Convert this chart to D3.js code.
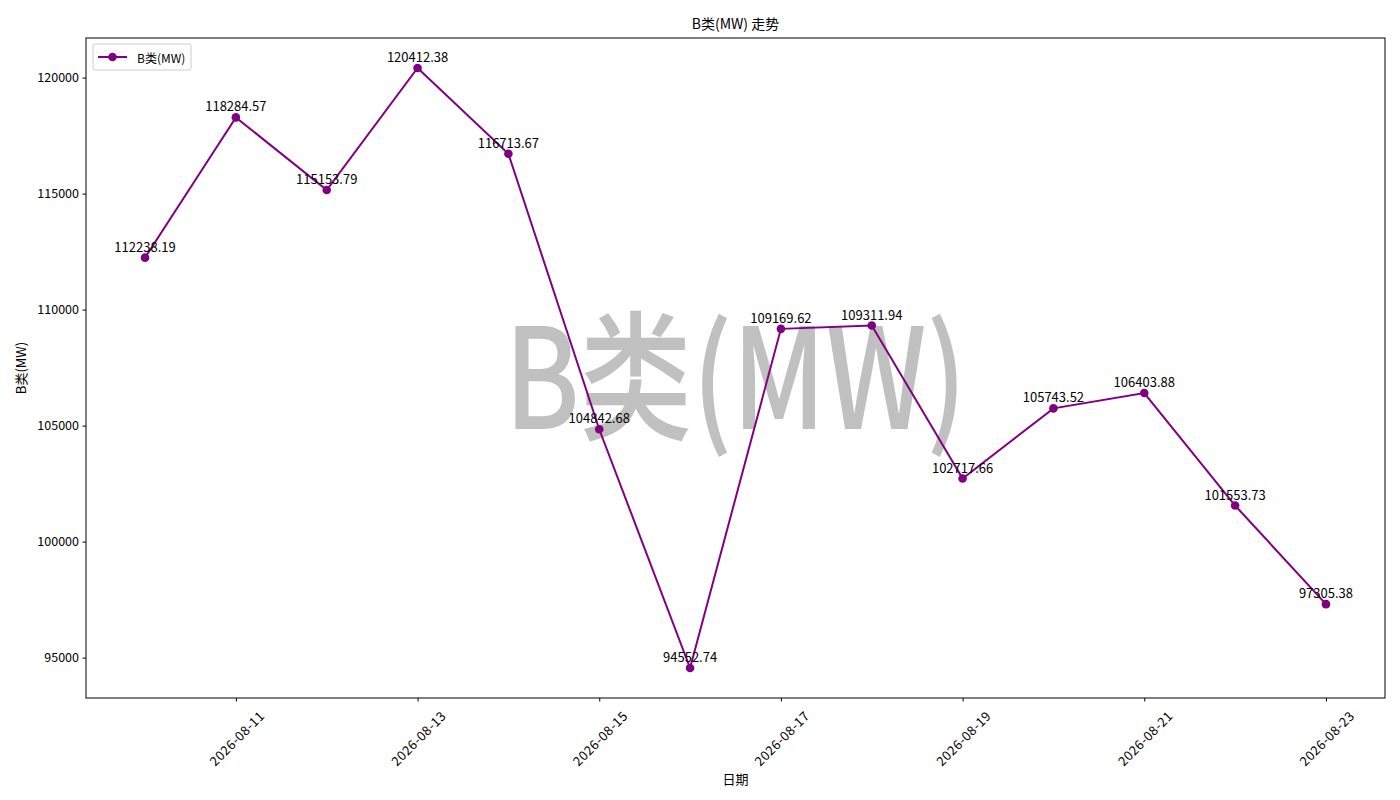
<!DOCTYPE html>
<html><head><meta charset="utf-8">
<script src="https://cdn.jsdelivr.net/npm/d3@7"></script>
<style>body{margin:0;background:#fff}svg{display:block}text{font-family:"Noto Sans CJK SC","DejaVu Sans",sans-serif}</style>
</head><body><div id="c"></div>
<script>
const dates = ["2026-08-10","2026-08-11","2026-08-12","2026-08-13","2026-08-14","2026-08-15","2026-08-16","2026-08-17","2026-08-18","2026-08-19","2026-08-20","2026-08-21","2026-08-22","2026-08-23"];
const values = [112238.19,118284.57,115153.79,120412.38,116713.67,104842.68,94552.74,109169.62,109311.94,102717.66,105743.52,106403.88,101553.73,97305.38];
const xTickLabels = ["2026-08-11","2026-08-13","2026-08-15","2026-08-17","2026-08-19","2026-08-21","2026-08-23"];
const yTicks = [95000,100000,105000,110000,115000,120000];
const seriesName = "B类(MW)";
const title = "B类(MW) 走势";
const xLabel = "日期";
const yLabel = "B类(MW)";

const W=1400,H=800, L=86,R=1385,T=38,B=698;
const color="#800080";
const parse=d3.timeParse("%Y-%m-%d");
const data=dates.map((d,i)=>({date:parse(d),v:values[i],label:values[i].toFixed(2)}));
const xExt=d3.extent(data,d=>d.date), xs=xExt[1]-xExt[0];
const x=d3.scaleTime().domain([new Date(+xExt[0]-xs*0.05),new Date(+xExt[1]+xs*0.05)]).range([L,R]);
const yExt=d3.extent(values), ys=yExt[1]-yExt[0];
const y=d3.scaleLinear().domain([yExt[0]-ys*0.05,yExt[1]+ys*0.05]).range([B,T]);

const svg=d3.select("#c").append("svg").attr("width",W).attr("height",H);
// watermark
svg.append("text").attr("x",(L+R)/2).attr("y",(T+B)/2).attr("text-anchor","middle").attr("dominant-baseline","central")
 .attr("font-size",140).attr("font-weight",500).attr("fill","#c0c0c0").attr("textLength",462).attr("lengthAdjust","spacingAndGlyphs").text(seriesName);

// axes
const xAxis=d3.axisBottom(x).tickValues(xTickLabels.map(parse)).tickSize(3.5).tickFormat(d3.timeFormat("%Y-%m-%d"));
const gx=svg.append("g").attr("transform",`translate(0,${B})`).call(xAxis);
gx.select(".domain").remove();
gx.selectAll("text").attr("font-size",13).attr("letter-spacing",0.4).attr("fill","#000").attr("y",0).attr("dy",0)
 .attr("text-anchor","middle").attr("dominant-baseline","central")
 .attr("transform","translate(0,40) rotate(-45)");
const yAxis=d3.axisLeft(y).tickValues(yTicks).tickSize(3.5).tickFormat(d3.format("d"));
const gy=svg.append("g").attr("transform",`translate(${L},0)`).call(yAxis);
gy.select(".domain").remove();
gy.selectAll("text").attr("font-size",12.5).attr("fill","#000").attr("x",-7);
svg.selectAll(".tick line").attr("stroke","#000");
svg.append("rect").attr("x",L).attr("y",T).attr("width",R-L).attr("height",B-T).attr("fill","none").attr("stroke","#000").attr("stroke-width",1);

// line
svg.append("path").datum(data).attr("fill","none").attr("stroke",color).attr("stroke-width",2)
 .attr("d",d3.line().x(d=>x(d.date)).y(d=>y(d.v)));
svg.selectAll("circle.pt").data(data).join("circle").attr("class","pt").attr("cx",d=>x(d.date)).attr("cy",d=>y(d.v)).attr("r",4.3).attr("fill",color);
svg.selectAll("text.lbl").data(data).join("text").attr("class","lbl").attr("x",d=>x(d.date)).attr("y",d=>y(d.v)-6)
 .attr("text-anchor","middle").attr("font-size",13).attr("fill","#000").text(d=>d.label);

// titles
svg.append("text").attr("x",(L+R)/2).attr("y",29).attr("text-anchor","middle").attr("font-size",14).text(title);
svg.append("text").attr("x",(L+R)/2).attr("y",784).attr("text-anchor","middle").attr("font-size",13).text(xLabel);
svg.append("text").attr("transform",`translate(26,${(T+B)/2}) rotate(-90)`).attr("text-anchor","middle").attr("font-size",13).text(yLabel);

// legend
const lg=svg.append("g");
lg.append("rect").attr("x",93).attr("y",44).attr("width",98).attr("height",26).attr("rx",2).attr("fill","#fff").attr("stroke","#ccc");
lg.append("line").attr("x1",98).attr("x2",127).attr("y1",57).attr("y2",57).attr("stroke",color).attr("stroke-width",2);
lg.append("circle").attr("cx",112.5).attr("cy",57).attr("r",4.3).attr("fill",color);
lg.append("text").attr("x",137).attr("y",57).attr("dominant-baseline","central").attr("font-size",12).text(seriesName);
</script></body></html>
